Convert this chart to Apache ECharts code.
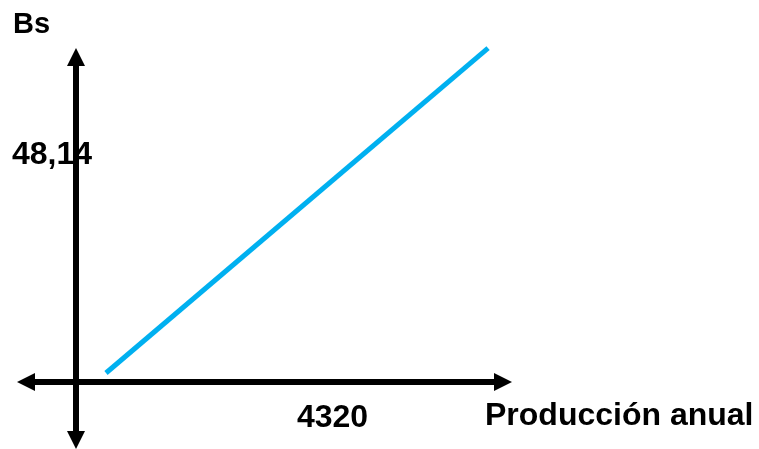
<!DOCTYPE html>
<html>
<head>
<meta charset="utf-8">
<script src="https://cdn.jsdelivr.net/npm/echarts@6/dist/echarts.min.js"></script>
<style>
html,body{margin:0;padding:0;background:#fff;}
#chart{width:759px;height:449px;}
</style>
</head>
<body>
<div id="chart"></div>
<script>
// Data
const xTickValues = [4320];
const yTickValues = [48.14];
const lineX = [505, 6940];
const lineY = [1.9, 70.8];
const xAxisName = 'Producción anual';
const yAxisName = 'Bs';

const seriesData = lineX.map((x, i) => [x, lineY[i]]);

const chart = echarts.init(document.getElementById('chart'), null, {renderer: 'canvas'});
const FONT = '"Liberation Sans", Arial, sans-serif';
const axisLineStyle = {color: '#000', width: 6};

chart.setOption({
  animation: false,
  backgroundColor: '#fff',
  grid: {left: 26, right: 759 - 503, top: 57, bottom: 9, containLabel: false, outerBoundsMode: 'none'},
  xAxis: {
    type: 'value',
    min: -842,
    max: 7191.5,
    splitLine: {show: false},
    axisTick: {show: false},
    axisLine: {show: true, onZero: true, lineStyle: axisLineStyle, symbol: ['triangle', 'triangle'], symbolSize: [18, 18]},
    axisLabel: {
      customValues: xTickValues,
      hideOverlap: false,
      color: '#000', fontFamily: FONT, fontWeight: 'bold', fontSize: 32,
      verticalAlign: 'middle', margin: -22,
      formatter: v => String(v)
    }
  },
  yAxis: {
    type: 'value',
    min: -12.3,
    max: 68.9,
    splitLine: {show: false},
    axisTick: {show: false},
    axisLine: {show: true, onZero: true, lineStyle: axisLineStyle, symbol: ['triangle', 'triangle'], symbolSize: [18, 18]},
    axisLabel: {
      customValues: yTickValues,
      hideOverlap: false,
      color: '#000', fontFamily: FONT, fontWeight: 'bold', fontSize: 32,
      align: 'left', verticalAlign: 'middle', margin: 14,
      formatter: v => v.toFixed(2).replace('.', ',')
    }
  },
  graphic: [
    {type: 'text', left: 13, top: 10, style: {text: yAxisName, fill: '#000', font: 'bold 29px ' + FONT}},
    {type: 'text', left: 485, top: 400, style: {text: xAxisName, fill: '#000', font: 'bold 32px ' + FONT}}
  ],
  series: [{
    type: 'line',
    data: seriesData,
    clip: false,
    symbol: 'none',
    lineStyle: {color: '#00B0F0', width: 5, cap: 'butt'},
    z: 1
  }]
});
</script>
</body>
</html>
